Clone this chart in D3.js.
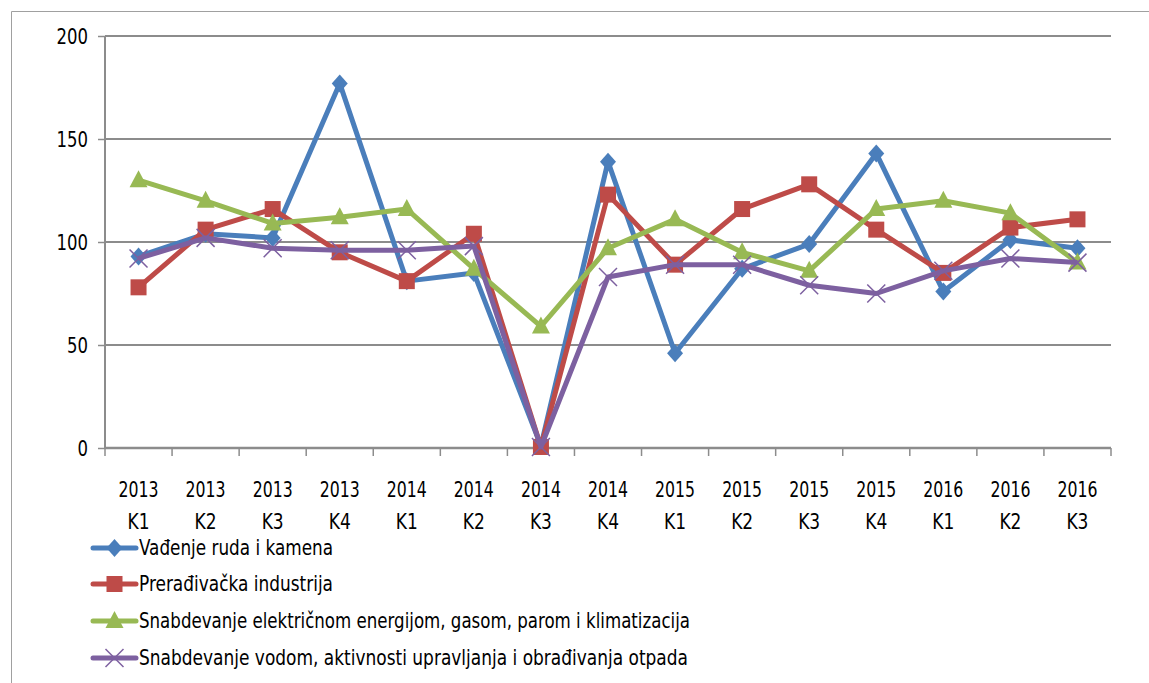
<!DOCTYPE html>
<html>
<head>
<meta charset="utf-8">
<script src="https://cdn.jsdelivr.net/npm/d3@7"></script>
<style>
  body { margin: 0; background: #fff; }
  svg { display: block; }
  text { font-family: "Liberation Sans Narrow", "DejaVu Sans Condensed", Roboto, sans-serif; fill: #000; }
</style>
</head>
<body>
<div id="chart"></div>
<script>
// categories (two-line labels)
var years = ["2013","2013","2013","2013","2014","2014","2014","2014","2015","2015","2015","2015","2016","2016","2016"];
var quarters = ["K1","K2","K3","K4","K1","K2","K3","K4","K1","K2","K3","K4","K1","K2","K3"];

var yTicks = [0, 50, 100, 150, 200];

var seriesNames = [
    "Vađenje ruda i kamena",
    "Prerađivačka industrija",
    "Snabdevanje električnom energijom, gasom, parom i klimatizacija",
    "Snabdevanje vodom, aktivnosti upravljanja i obrađivanja otpada"
];

var rudaValues = [93, 104, 102, 177, 81, 85, 1, 139, 46, 87, 99, 143, 76, 101, 97];
var preradaValues = [78, 106, 116, 95, 81, 104, 0.5, 123, 89, 116, 128, 106, 85, 107, 111];
var energijaValues = [130, 120, 109, 112, 116, 87, 59, 97, 111, 95, 86, 116, 120, 114, 90];
var vodaValues = [92, 102, 97, 96, 96, 98, 0.5, 83, 89, 89, 79, 75, 86, 92, 90];

var colors = ["#4a7ebb", "#be4b48", "#98b954", "#7d60a0"];
var markers = ["diamond", "square", "triangle", "cross"];

var width = 1149, height = 683;
var plotLeft = 105, plotRight = 1111, plotTop = 36, plotBottom = 448;

var svg = d3.select("#chart").append("svg")
    .attr("width", width)
    .attr("height", height);

// outer frame (left + top only visible)
svg.append("path")
    .attr("d", "M11.5,683 L11.5,11.5 L1149,11.5")
    .attr("fill", "none")
    .attr("stroke", "#a0a0a0")
    .attr("stroke-width", 1);

var cats = years.map((y, i) => i);

var xScale = d3.scaleBand()
    .domain(cats)
    .range([plotLeft, plotRight]);

var yScale = d3.scaleLinear()
    .domain([0, 200])
    .range([plotBottom, plotTop]);

// gridlines
svg.append("g")
    .selectAll("line")
    .data(yTicks.filter(d => d > 0))
    .join("line")
    .attr("x1", plotLeft)
    .attr("x2", plotRight)
    .attr("y1", d => yScale(d))
    .attr("y2", d => yScale(d))
    .attr("stroke", "#8c8c8c")
    .attr("stroke-width", 2);

// y axis
var yAxis = svg.append("g")
    .attr("transform", `translate(${plotLeft},0)`)
    .call(d3.axisLeft(yScale).tickValues(yTicks).tickSize(7).tickPadding(10));
yAxis.select(".domain").attr("stroke", "#8c8c8c").attr("stroke-width", 2).attr("d", `M0,${plotTop}V${plotBottom}`);
yAxis.selectAll(".tick line").attr("stroke", "#8c8c8c").attr("stroke-width", 1.5);
yAxis.selectAll(".tick text")
    .attr("font-size", 21)
    .attr("font-family", null)
    .attr("fill", "#000")
    .attr("dy", "0.35em")
    .attr("textLength", d => String(d).length * 10.5)
    .attr("lengthAdjust", "spacingAndGlyphs");

// x axis
var xAxis = svg.append("g")
    .attr("transform", `translate(0,${plotBottom})`)
    .call(d3.axisBottom(xScale).tickSize(0).tickFormat(""));
xAxis.select(".domain").attr("stroke", "#8c8c8c").attr("stroke-width", 2.5).attr("d", `M${plotLeft},0H${plotRight}`);

// x tick marks at category boundaries
svg.append("g")
    .selectAll("line")
    .data(d3.range(cats.length + 1))
    .join("line")
    .attr("x1", d => plotLeft + d * xScale.step())
    .attr("x2", d => plotLeft + d * xScale.step())
    .attr("y1", plotBottom)
    .attr("y2", plotBottom + 8)
    .attr("stroke", "#8c8c8c")
    .attr("stroke-width", 1.5);

// x labels
var xl = svg.append("g")
    .selectAll("text")
    .data(cats)
    .join("text")
    .attr("text-anchor", "middle")
    .attr("font-size", 21);
xl.append("tspan").attr("x", d => xScale(d) + xScale.bandwidth() / 2).attr("y", 497)
    .attr("textLength", 40).attr("lengthAdjust", "spacingAndGlyphs").text(d => years[d]);
xl.append("tspan").attr("x", d => xScale(d) + xScale.bandwidth() / 2).attr("y", 529)
    .attr("textLength", 22).attr("lengthAdjust", "spacingAndGlyphs").text(d => quarters[d]);

// marker drawing helper
function drawMarker(g, type, color, x, y) {
    if (type === "diamond") {
        g.append("path")
            .attr("d", `M${x},${y - 9}L${x + 8},${y}L${x},${y + 9}L${x - 8},${y}Z`)
            .attr("fill", color);
    } else if (type === "square") {
        g.append("rect")
            .attr("x", x - 8).attr("y", y - 8)
            .attr("width", 16).attr("height", 16)
            .attr("fill", color);
    } else if (type === "triangle") {
        g.append("path")
            .attr("d", `M${x},${y - 10}L${x + 9},${y + 7}L${x - 9},${y + 7}Z`)
            .attr("fill", color);
    } else {
        g.append("path")
            .attr("d", `M${x - 9},${y - 9}L${x + 9},${y + 9}M${x - 9},${y + 9}L${x + 9},${y - 9}`)
            .attr("stroke", color)
            .attr("stroke-width", 1.5);
    }
}

var allSeries = [rudaValues, preradaValues, energijaValues, vodaValues];

var line = d3.line()
    .x((d, i) => xScale(i) + xScale.bandwidth() / 2)
    .y(d => yScale(d));

allSeries.forEach((vals, s) => {
    var g = svg.append("g");
    g.append("path")
        .datum(vals)
        .attr("fill", "none")
        .attr("stroke", colors[s])
        .attr("stroke-width", 5)
        .attr("stroke-linejoin", "round")
        .attr("d", line);
    vals.forEach((v, i) => {
        drawMarker(g, markers[s], colors[s], xScale(i) + xScale.bandwidth() / 2, yScale(v));
    });
});

// legend
var legendY = [548, 584, 621, 658];
var legendLen = [194, 194, 551, 549];
seriesNames.forEach((name, s) => {
    var g = svg.append("g");
    var y = legendY[s];
    g.append("line")
        .attr("x1", 93).attr("x2", 136)
        .attr("y1", y).attr("y2", y)
        .attr("stroke", colors[s])
        .attr("stroke-width", 5)
        .attr("stroke-linecap", "round");
    drawMarker(g, markers[s], colors[s], 114.5, y);
    g.append("text")
        .attr("x", 139)
        .attr("y", y)
        .attr("dy", "0.35em")
        .attr("font-size", 21)
        .attr("textLength", legendLen[s])
        .attr("lengthAdjust", "spacingAndGlyphs")
        .text(name);
});
</script>
</body>
</html>
